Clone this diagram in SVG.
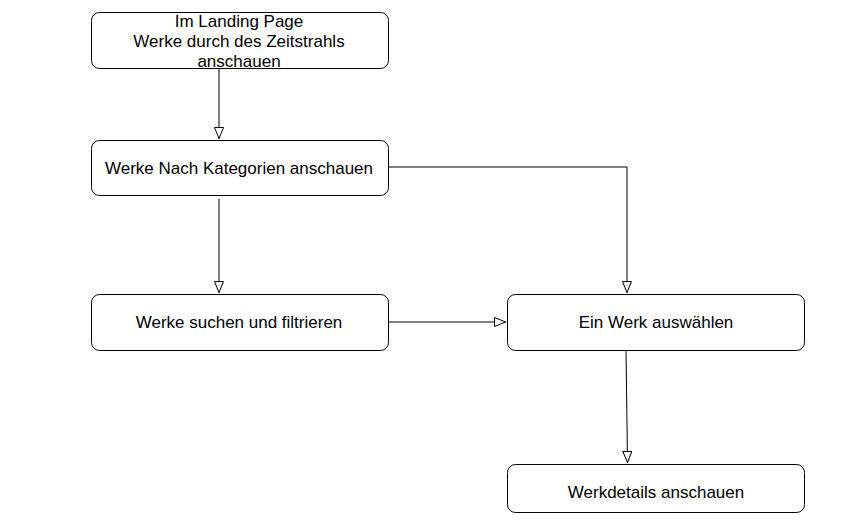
<svg xmlns="http://www.w3.org/2000/svg" width="849" height="532" viewBox="0 0 849 532">
<style>
.box{fill:#fff;stroke:#000;stroke-width:1}
.lbl{font-family:"Liberation Sans",Arial,sans-serif;font-size:17px;fill:#000;text-anchor:middle}
.edge{fill:none;stroke:#000;stroke-width:1}
</style>
<defs>
<marker id="tri" viewBox="0 0 12 10" refX="12" refY="5" markerWidth="12" markerHeight="10" markerUnits="userSpaceOnUse" orient="auto">
<path d="M0.5,0.5 L11.5,5 L0.5,9.5 Z" fill="#fff" stroke="#000" stroke-width="1"/>
</marker>
</defs>
<rect width="849" height="532" fill="#fff"/>
<g id="connectors">
<path class="edge" d="M219,69 V139" marker-end="url(#tri)"/>
<path class="edge" d="M219,199 V293" marker-end="url(#tri)"/>
<path class="edge" d="M388,167 H627 V293" marker-end="url(#tri)"/>
<path class="edge" d="M388,322 H506" marker-end="url(#tri)"/>
<path class="edge" d="M626,350 L627.5,463" marker-end="url(#tri)"/>
</g>
<g id="n1">
<rect class="box" x="91.5" y="12.5" width="297" height="56" rx="8"/>
<text class="lbl" x="239" y="27">Im Landing Page</text>
<text class="lbl" x="239" y="47">Werke durch des Zeitstrahls</text>
<text class="lbl" x="239" y="67">anschauen</text>
</g>
<g id="n2">
<rect class="box" x="91.5" y="140.5" width="297" height="55" rx="8"/>
<text class="lbl" x="239" y="174">Werke Nach Kategorien anschauen</text>
</g>
<g id="n3">
<rect class="box" x="91.5" y="294.5" width="297" height="56" rx="8"/>
<text class="lbl" x="239" y="328">Werke suchen und filtrieren</text>
</g>
<g id="n4">
<rect class="box" x="507.5" y="294.5" width="297" height="56" rx="8"/>
<text class="lbl" x="656" y="328">Ein Werk auswählen</text>
</g>
<g id="n5">
<rect class="box" x="507.5" y="464.5" width="297" height="48" rx="8"/>
<text class="lbl" x="656" y="498">Werkdetails anschauen</text>
</g>
</svg>
